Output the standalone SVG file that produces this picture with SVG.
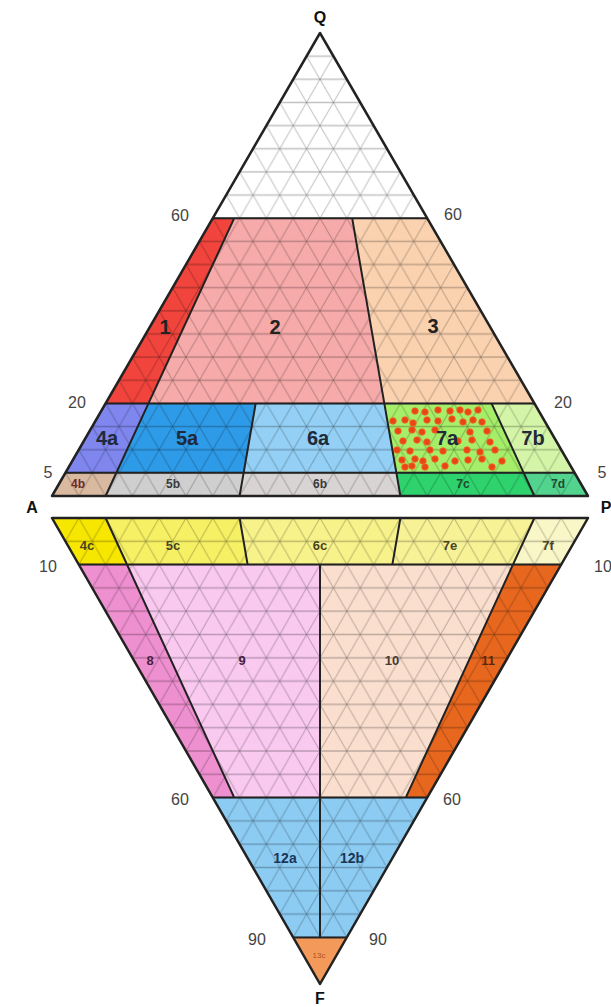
<svg xmlns="http://www.w3.org/2000/svg" width="611" height="1007" viewBox="0 0 611 1007">
<style>
text{font-family:"Liberation Sans",Arial,sans-serif;text-anchor:middle}
.ax{font-size:16px;fill:#444}
.ap{font-size:16px;font-weight:bold;fill:#111}
.big{font-size:20px;font-weight:bold;fill:#222}
.mid{font-size:20px;font-weight:bold;fill:#1e2a3a}
.sm{font-size:12px;font-weight:bold;fill:#3a3a3a}
.sc{font-size:13px;font-weight:bold;fill:#4a4420}
.lw{font-size:13px;font-weight:bold;fill:#4a2040}
.bl{font-size:14px;font-weight:bold;fill:#1a3658}
.gu{fill:url(#gu)}
.gl{fill:url(#gl)}
.bd{fill:none;stroke:#222;stroke-width:2;stroke-linejoin:round}
.dot{fill:#ea4418;stroke:#f07020;stroke-width:0.8}
</style>
<defs>
<pattern id="gu" patternUnits="userSpaceOnUse" x="52" y="496" width="26.8" height="46.3">
<g stroke="#000" stroke-opacity="0.24" fill="none">
<path d="M-1 0H28M-1 23.15H28M-1 46.3H28" stroke-width="1.5"/>
<path stroke-width="1" d="M-40.2 -23.15L13.4 69.45M-13.4 -23.15L40.2 69.45M13.4 -23.15L67 69.45M13.4 -23.15L-40.2 69.45M40.2 -23.15L-13.4 69.45M67 -23.15L13.4 69.45"/>
</g>
</pattern>
<pattern id="gl" patternUnits="userSpaceOnUse" x="52" y="518" width="26.8" height="46.6">
<g stroke="#000" stroke-opacity="0.24" fill="none">
<path d="M-1 0H28M-1 23.3H28M-1 46.6H28" stroke-width="1.5"/>
<path stroke-width="1" d="M-40.2 -23.3L13.4 69.9M-13.4 -23.3L40.2 69.9M13.4 -23.3L67 69.9M13.4 -23.3L-40.2 69.9M40.2 -23.3L-13.4 69.9M67 -23.3L13.4 69.9"/>
</g>
</pattern>
</defs>
<rect width="611" height="1007" fill="#fff"/>

<g id="f-top"><polygon fill="#fff" points="320,33 212.8,218.2 427.2,218.2"/><polygon class="gu" points="320,33 212.8,218.2 427.2,218.2"/></g>
<g id="f1"><polygon fill="#f0443c" points="212.8,218.2 234.24,218.2 148.48,403.4 105.6,403.4"/><polygon class="gu" points="212.8,218.2 234.24,218.2 148.48,403.4 105.6,403.4"/><text class="big" x="165" y="334">1</text></g>
<g id="f2"><polygon fill="#f6aaaa" points="234.24,218.2 352.16,218.2 384.32,403.4 148.48,403.4"/><polygon class="gu" points="234.24,218.2 352.16,218.2 384.32,403.4 148.48,403.4"/><text class="big" x="275" y="334">2</text></g>
<g id="f3"><polygon fill="#fad2b0" points="352.16,218.2 427.2,218.2 534.4,403.4 384.32,403.4"/><polygon class="gu" points="352.16,218.2 427.2,218.2 534.4,403.4 384.32,403.4"/><text class="big" x="433" y="333">3</text></g>
<g id="f4a"><polygon fill="#7f86ee" points="105.6,403.4 148.48,403.4 116.32,472.85 65.4,472.85"/><polygon class="gu" points="105.6,403.4 148.48,403.4 116.32,472.85 65.4,472.85"/><text class="mid" x="107" y="445">4a</text></g>
<g id="f5a"><polygon fill="#2e9be8" points="148.48,403.4 255.68,403.4 243.62,472.85 116.32,472.85"/><polygon class="gu" points="148.48,403.4 255.68,403.4 243.62,472.85 116.32,472.85"/><text class="mid" x="187" y="445">5a</text></g>
<g id="f6a"><polygon fill="#94d0f5" points="255.68,403.4 384.32,403.4 396.38,472.85 243.62,472.85"/><polygon class="gu" points="255.68,403.4 384.32,403.4 396.38,472.85 243.62,472.85"/><text class="mid" x="318" y="445">6a</text></g>
<g id="f7a"><polygon fill="#a6ee6a" points="384.32,403.4 491.52,403.4 523.68,472.85 396.38,472.85"/><polygon class="gu" points="384.32,403.4 491.52,403.4 523.68,472.85 396.38,472.85"/>
<g id="dots">
<circle class="dot" cx="415" cy="411" r="3.3"/><circle class="dot" cx="425" cy="412" r="3.3"/><circle class="dot" cx="438" cy="410" r="3.3"/><circle class="dot" cx="450" cy="411" r="3.3"/><circle class="dot" cx="460" cy="410" r="3.3"/><circle class="dot" cx="468" cy="412" r="3.3"/><circle class="dot" cx="478" cy="410" r="3.3"/>
<circle class="dot" cx="393" cy="421" r="3.3"/><circle class="dot" cx="405" cy="420" r="3.3"/><circle class="dot" cx="413" cy="423" r="3.3"/><circle class="dot" cx="427" cy="420" r="3.3"/><circle class="dot" cx="438" cy="421" r="3.3"/><circle class="dot" cx="452" cy="419" r="3.3"/><circle class="dot" cx="463" cy="422" r="3.3"/><circle class="dot" cx="473" cy="420" r="3.3"/><circle class="dot" cx="482" cy="422" r="3.3"/>
<circle class="dot" cx="398" cy="431" r="3.3"/><circle class="dot" cx="412" cy="430" r="3.3"/><circle class="dot" cx="422" cy="432" r="3.3"/><circle class="dot" cx="435" cy="430" r="3.3"/><circle class="dot" cx="470" cy="432" r="3.3"/><circle class="dot" cx="487" cy="431" r="3.3"/>
<circle class="dot" cx="403" cy="441" r="3.3"/><circle class="dot" cx="417" cy="440" r="3.3"/><circle class="dot" cx="427" cy="442" r="3.3"/><circle class="dot" cx="458" cy="441" r="3.3"/><circle class="dot" cx="472" cy="440" r="3.3"/><circle class="dot" cx="490" cy="442" r="3.3"/>
<circle class="dot" cx="397" cy="450" r="3.3"/><circle class="dot" cx="410" cy="451" r="3.3"/><circle class="dot" cx="430" cy="450" r="3.3"/><circle class="dot" cx="443" cy="451" r="3.3"/><circle class="dot" cx="467" cy="450" r="3.3"/><circle class="dot" cx="480" cy="452" r="3.3"/><circle class="dot" cx="495" cy="450" r="3.3"/>
<circle class="dot" cx="402" cy="460" r="3.3"/><circle class="dot" cx="415" cy="459" r="3.3"/><circle class="dot" cx="423" cy="461" r="3.3"/><circle class="dot" cx="435" cy="459" r="3.3"/><circle class="dot" cx="455" cy="461" r="3.3"/><circle class="dot" cx="468" cy="460" r="3.3"/><circle class="dot" cx="482" cy="459" r="3.3"/><circle class="dot" cx="502" cy="461" r="3.3"/>
<circle class="dot" cx="405" cy="467" r="3.3"/><circle class="dot" cx="412" cy="466" r="3.3"/><circle class="dot" cx="425" cy="467" r="3.3"/><circle class="dot" cx="445" cy="466" r="3.3"/><circle class="dot" cx="492" cy="467" r="3.3"/>
</g>
<text class="mid" x="447" y="445">7a</text></g>
<g id="f7b"><polygon fill="#d4f5a8" points="491.52,403.4 534.4,403.4 574.6,472.85 523.68,472.85"/><polygon class="gu" points="491.52,403.4 534.4,403.4 574.6,472.85 523.68,472.85"/><text class="mid" x="533" y="445">7b</text></g>
<g id="f4b"><polygon fill="#d9b9a0" points="65.4,472.85 116.32,472.85 105.6,496 52,496"/><polygon class="gu" points="65.4,472.85 116.32,472.85 105.6,496 52,496"/><text class="sm" x="78" y="488" style="fill:#6b2a2a">4b</text></g>
<g id="f5b"><polygon fill="#cfcfcf" points="116.32,472.85 243.62,472.85 239.6,496 105.6,496"/><polygon class="gu" points="116.32,472.85 243.62,472.85 239.6,496 105.6,496"/><text class="sm" x="173" y="488">5b</text></g>
<g id="f6b"><polygon fill="#d8d4d4" points="243.62,472.85 396.38,472.85 400.4,496 239.6,496"/><polygon class="gu" points="243.62,472.85 396.38,472.85 400.4,496 239.6,496"/><text class="sm" x="320" y="488">6b</text></g>
<g id="f7c"><polygon fill="#2ed36e" points="396.38,472.85 523.68,472.85 534.4,496 400.4,496"/><polygon class="gu" points="396.38,472.85 523.68,472.85 534.4,496 400.4,496"/><text class="sm" x="463" y="488" style="fill:#1f4a30">7c</text></g>
<g id="f7d"><polygon fill="#52d48e" points="523.68,472.85 574.6,472.85 588,496 534.4,496"/><polygon class="gu" points="523.68,472.85 574.6,472.85 588,496 534.4,496"/><text class="sm" x="558" y="488" style="fill:#1f4a30">7d</text></g>

<g id="f4c"><polygon fill="#f7e600" points="52,518 105.6,518 127.04,564.6 78.8,564.6"/><polygon class="gl" points="52,518 105.6,518 127.04,564.6 78.8,564.6"/><text class="sc" x="87" y="550">4c</text></g>
<g id="f5c"><polygon fill="#f6f064" points="105.6,518 239.6,518 247.64,564.6 127.04,564.6"/><polygon class="gl" points="105.6,518 239.6,518 247.64,564.6 127.04,564.6"/><text class="sc" x="173" y="550">5c</text></g>
<g id="f6c"><polygon fill="#f7f28a" points="239.6,518 400.4,518 392.36,564.6 247.64,564.6"/><polygon class="gl" points="239.6,518 400.4,518 392.36,564.6 247.64,564.6"/><text class="sc" x="320" y="550">6c</text></g>
<g id="f7e"><polygon fill="#f7f296" points="400.4,518 534.4,518 512.96,564.6 392.36,564.6"/><polygon class="gl" points="400.4,518 534.4,518 512.96,564.6 392.36,564.6"/><text class="sc" x="450" y="550">7e</text></g>
<g id="f7f"><polygon fill="#f9f6c8" points="534.4,518 588,518 561.2,564.6 512.96,564.6"/><polygon class="gl" points="534.4,518 588,518 561.2,564.6 512.96,564.6"/><text class="sc" x="548" y="550">7f</text></g>
<g id="f8"><polygon fill="#ee8fcf" points="78.8,564.6 127.04,564.6 234.24,797.6 212.8,797.6"/><polygon class="gl" points="78.8,564.6 127.04,564.6 234.24,797.6 212.8,797.6"/><text class="lw" x="150" y="665">8</text></g>
<g id="f9"><polygon fill="#f9c9f0" points="127.04,564.6 320,564.6 320,797.6 234.24,797.6"/><polygon class="gl" points="127.04,564.6 320,564.6 320,797.6 234.24,797.6"/><text class="lw" x="242" y="665">9</text></g>
<g id="f10"><polygon fill="#fadfcf" points="320,564.6 512.96,564.6 405.76,797.6 320,797.6"/><polygon class="gl" points="320,564.6 512.96,564.6 405.76,797.6 320,797.6"/><text class="lw" x="392" y="665" style="fill:#4a3a30">10</text></g>
<g id="f11"><polygon fill="#e8671e" points="512.96,564.6 561.2,564.6 427.2,797.6 405.76,797.6"/><polygon class="gl" points="512.96,564.6 561.2,564.6 427.2,797.6 405.76,797.6"/><text class="lw" x="488" y="665" style="fill:#5a2a10">11</text></g>
<g id="f12a"><polygon fill="#8ccbf2" points="212.8,797.6 320,797.6 320,937.4 293.2,937.4"/><polygon class="gl" points="212.8,797.6 320,797.6 320,937.4 293.2,937.4"/><text class="bl" x="285" y="863">12a</text></g>
<g id="f12b"><polygon fill="#8ccbf2" points="320,797.6 427.2,797.6 346.8,937.4 320,937.4"/><polygon class="gl" points="320,797.6 427.2,797.6 346.8,937.4 320,937.4"/><text class="bl" x="352" y="863">12b</text></g>
<g id="f13c"><polygon fill="#f39a5a" points="293.2,937.4 346.8,937.4 320,984"/><text x="319" y="958" style="font-size:8px;fill:#b05020">13c</text></g>

<g id="boundaries" class="bd">
<polygon points="320,33 52,496 588,496" stroke-width="2.5"/>
<polygon points="52,518 588,518 320,984" stroke-width="2.5"/>
<path d="M212.8,218.2H427.2M105.6,403.4H534.4M65.4,472.85H574.6M234.24,218.2L148.48,403.4M352.16,218.2L384.32,403.4M148.48,403.4L105.6,496M255.68,403.4L243.62,472.85L239.6,496M384.32,403.4L400.4,496M491.52,403.4L523.68,472.85L534.4,496"/>
<path d="M78.8,564.6H561.2M212.8,797.6H427.2M293.2,937.4H346.8M105.6,518L234.24,797.6M239.6,518L247.64,564.6M400.4,518L392.36,564.6M534.4,518L405.76,797.6M320,564.6V937.4"/>
</g>

<g id="axis-labels">
<text class="ap" x="320" y="23">Q</text>
<text class="ap" x="32" y="513">A</text>
<text class="ap" x="606" y="513">P</text>
<text class="ap" x="320" y="1004">F</text>
<text class="ax" x="180" y="221">60</text>
<text class="ax" x="453" y="220">60</text>
<text class="ax" x="77" y="408">20</text>
<text class="ax" x="563" y="408">20</text>
<text class="ax" x="48" y="478">5</text>
<text class="ax" x="602" y="478">5</text>
<text class="ax" x="48" y="572">10</text>
<text class="ax" x="594" y="572" style="text-anchor:start">10</text>
<text class="ax" x="180" y="805">60</text>
<text class="ax" x="452" y="805">60</text>
<text class="ax" x="257" y="945">90</text>
<text class="ax" x="378" y="945">90</text>
</g>
</svg>
